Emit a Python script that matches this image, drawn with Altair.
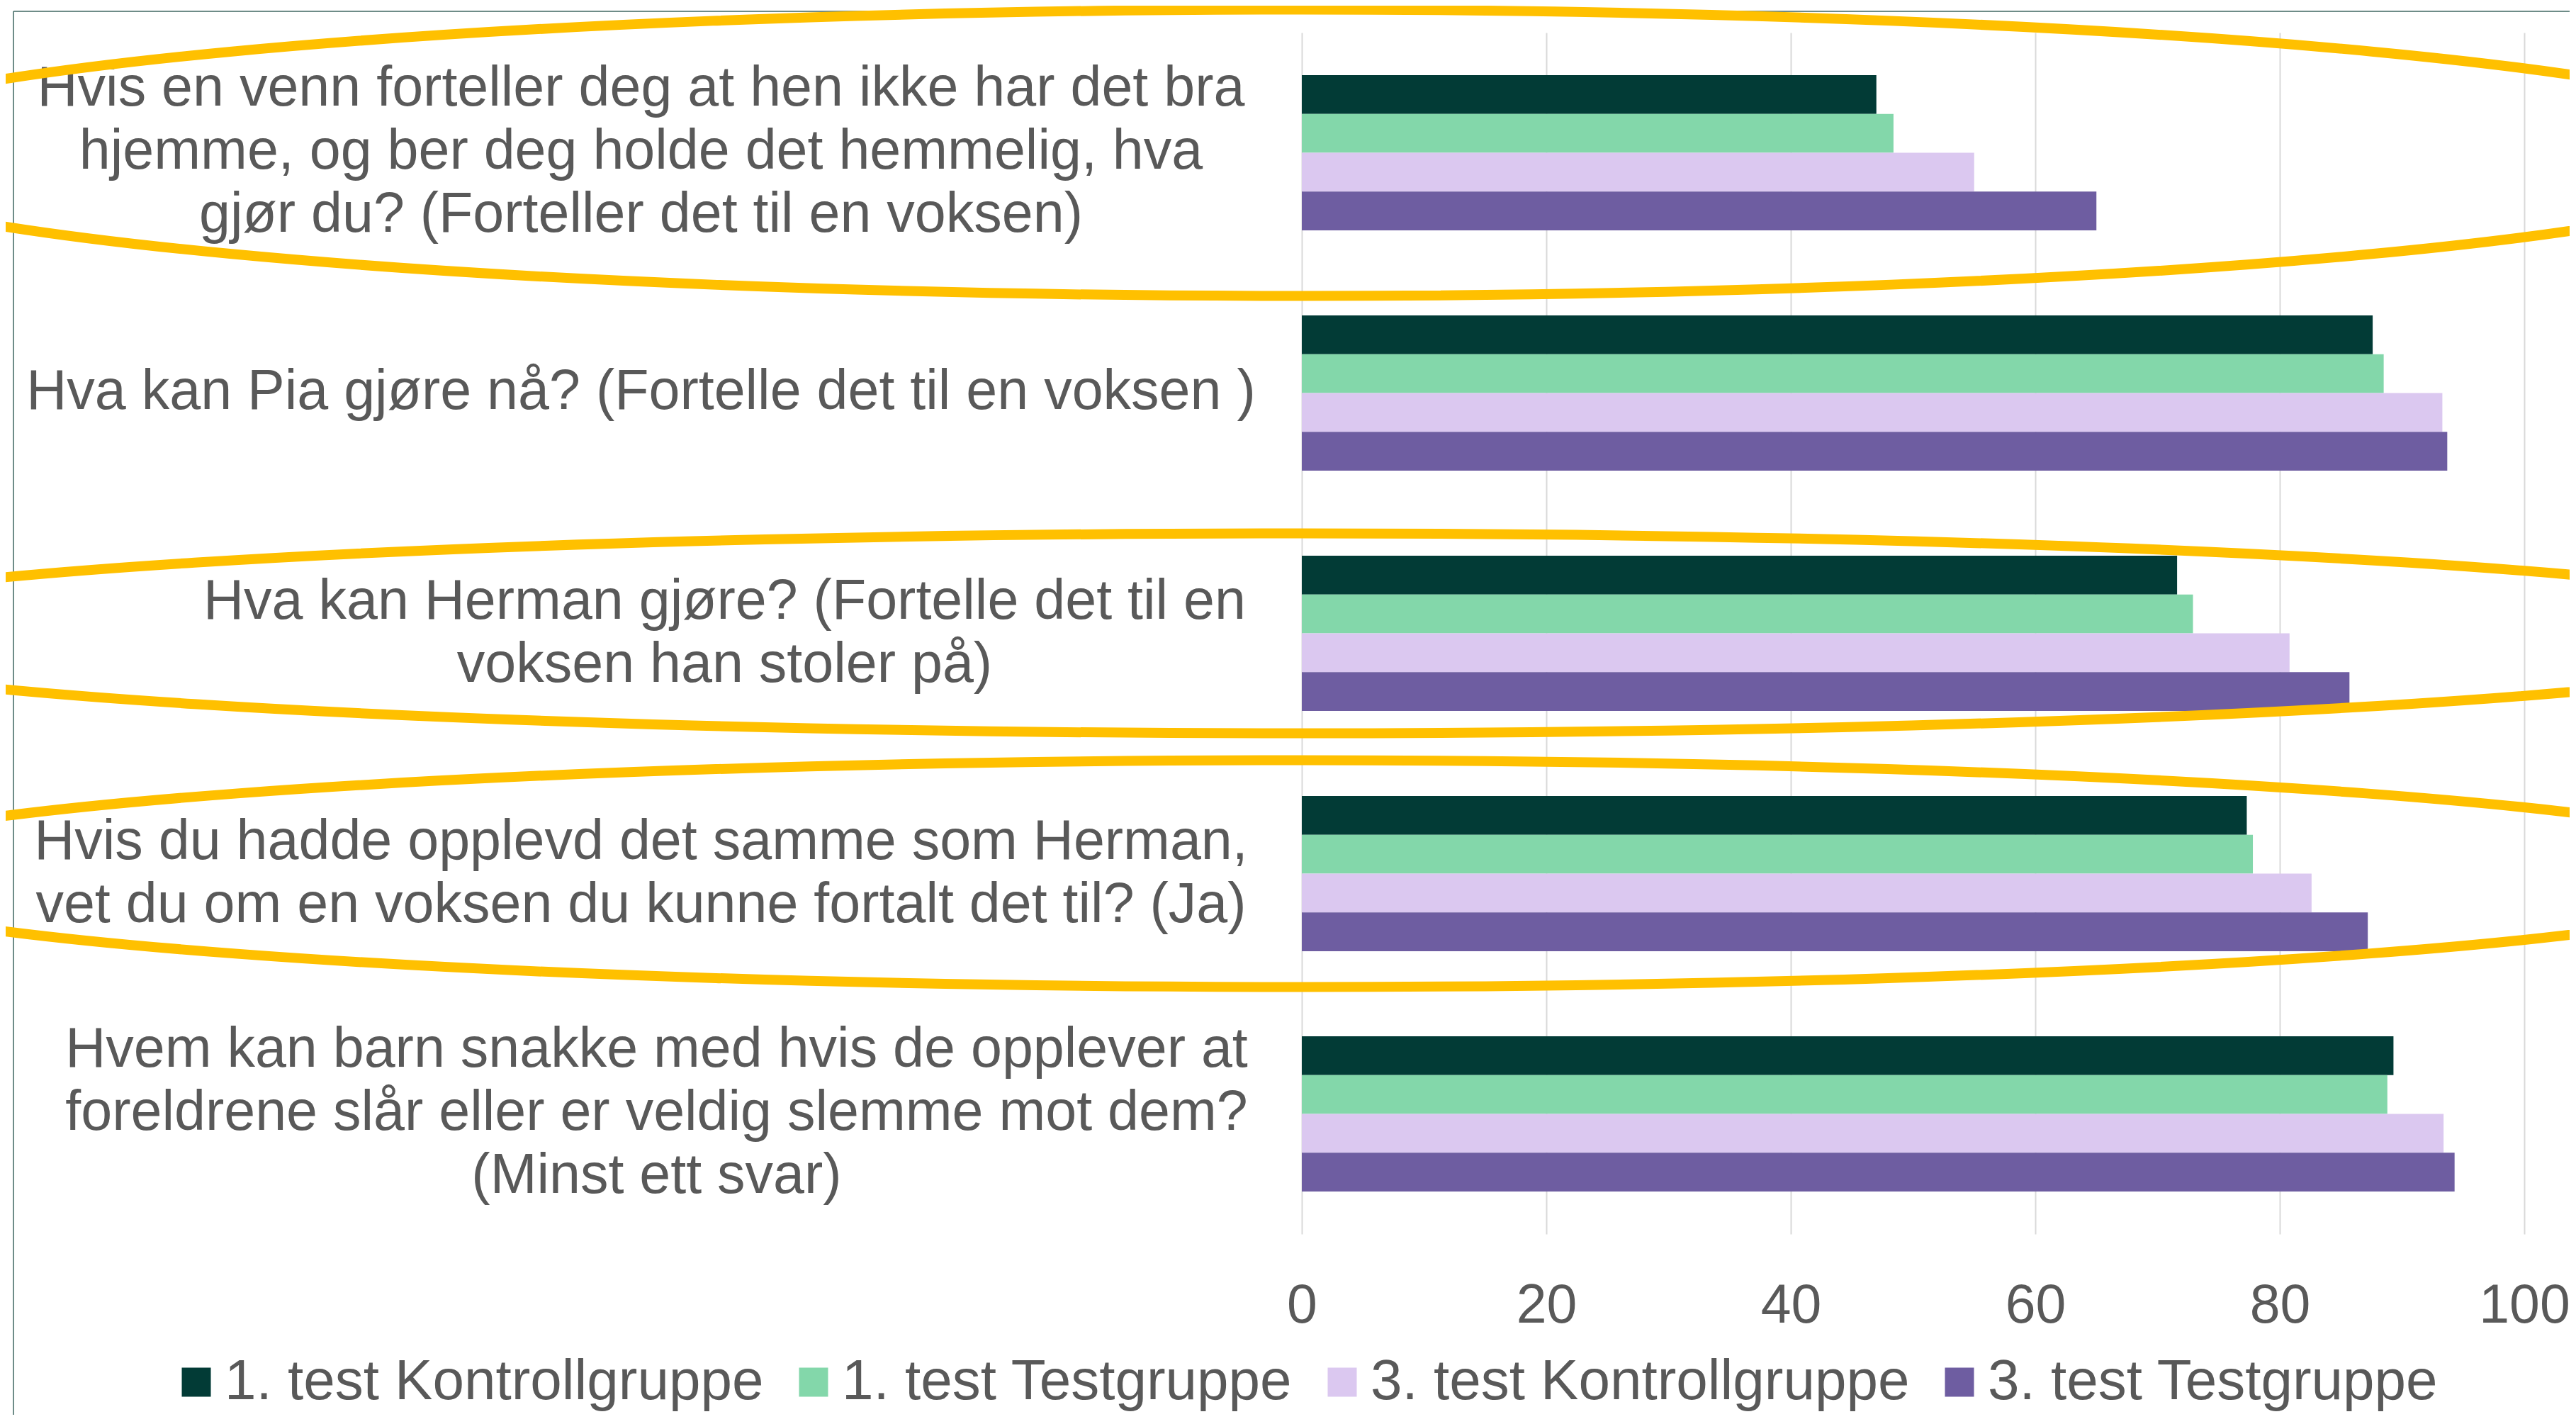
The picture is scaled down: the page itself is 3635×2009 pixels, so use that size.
import json
import altair as alt
import pandas as pd

# ---- data -------------------------------------------------------------
category_lines = [
    ["Hvis en venn forteller deg at hen ikke har det bra",
     "hjemme, og ber deg holde det hemmelig, hva",
     "gjør du? (Forteller det til en voksen)"],
    ["Hva kan Pia gjøre nå? (Fortelle det til en voksen )"],
    ["Hva kan Herman gjøre?  (Fortelle det til en",
     "voksen han stoler på)"],
    ["Hvis du hadde opplevd det samme som Herman,",
     "vet du om en voksen du kunne fortalt det til? (Ja)"],
    ["Hvem kan barn snakke med hvis de opplever at",
     "foreldrene slår eller er veldig slemme mot dem?",
     "(Minst ett svar)"],
]
categories = ["\n".join(lines) for lines in category_lines]

series = ["1. test Kontrollgruppe", "1. test Testgruppe",
          "3. test Kontrollgruppe", "3. test Testgruppe"]
colors = ["#023B36", "#83D7AA", "#DBC8F0", "#6E5DA1"]

k1_values = [47.0, 87.6, 71.6, 77.3, 89.3]
t1_values = [48.4, 88.5, 72.9, 77.8, 88.8]
k3_values = [55.0, 93.3, 80.8, 82.6, 93.4]
t3_values = [65.0, 93.7, 85.7, 87.2, 94.3]

x_ticks = [0, 20, 40, 60, 80, 100]

highlighted = [0, 2, 3]                    # categories circled in yellow
ellipse_axes = [(2135, 202), (2210, 141), (2124, 160)]  # half-axes, px

# ---- table -------------------------------------------------------------
rows = []
for s, vals in zip(series, [k1_values, t1_values, k3_values, t3_values]):
    for c, v in zip(categories, vals):
        rows.append({"category": c, "series": s, "value": v})
df = pd.DataFrame(rows)

TEXT = "#595959"
FONT = "Liberation Sans"

n_lines = "length(split(datum.value, '\\n'))"
# vertical centring of the multi-line label blocks on their band
label_baseline = {
    "condition": [
        {"test": f"{n_lines} >= 3", "value": "line-bottom"},
        {"test": f"{n_lines} == 1", "value": "line-top"},
    ],
    "value": "middle",
}


def is_cat(i):
    return f"datum.value == {json.dumps(categories[i], ensure_ascii=False)}"


# each label block is centred under its own widest line
label_padding = {
    "condition": [
        {"test": is_cat(2), "value": 815},
        {"test": is_cat(4), "value": 911},
    ],
    "value": 933,
}

bars = alt.Chart(df).mark_bar().encode(
    x=alt.X("value:Q",
            scale=alt.Scale(domain=[0, 100], nice=False),
            axis=alt.Axis(values=x_ticks, grid=True, gridColor="#D9D9D9",
                          gridWidth=2, domain=False, ticks=False,
                          labelFontSize=77, labelColor=TEXT,
                          labelBaseline="middle", labelPadding=101,
                          labelFlush=False, labelOverlap=False, title=None)),
    y=alt.Y("category:N", sort=categories,
            scale=alt.Scale(paddingInner=0.354, paddingOuter=0.177),
            axis=alt.Axis(title=None, domain=False, ticks=False,
                          labelExpr="split(datum.label, '\\n')",
                          labelAlign="center", labelBaseline=label_baseline,
                          labelPadding=label_padding, labelLimit=0,
                          labelOffset=-44.5,
                          labelFontSize=79, labelLineHeight=89,
                          labelColor=TEXT, labelOverlap=False)),
    yOffset=alt.YOffset("series:N", sort=series,
                        scale=alt.Scale(paddingInner=0, paddingOuter=0)),
    color=alt.Color("series:N", sort=series,
                    scale=alt.Scale(domain=series, range=colors),
                    legend=alt.Legend(title=None, orient="none",
                                      legendX=-1600, legendY=1864,
                                      direction="horizontal",
                                      symbolType="square", symbolSize=1681,
                                      symbolStrokeWidth=0,
                                      labelFontSize=80, labelColor=TEXT,
                                      labelLimit=0, labelOffset=0,
                                      columnPadding=30, padding=0)),
)


def ellipse_path(r):
    k = 0.5523
    return (f"M -1 0 C -1 {-k*r:.5f} {-k:.5f} {-r:.5f} 0 {-r:.5f} "
            f"C {k:.5f} {-r:.5f} 1 {-k*r:.5f} 1 0 "
            f"C 1 {k*r:.5f} {k:.5f} {r:.5f} 0 {r:.5f} "
            f"C {-k:.5f} {r:.5f} -1 {k*r:.5f} -1 0 Z")


ellipses = []
for idx, (a, b) in zip(highlighted, ellipse_axes):
    edf = pd.DataFrame({"category": [categories[idx]], "x": [0]})
    ellipses.append(
        alt.Chart(edf).mark_point(
            shape=ellipse_path(b / a), size=(2 * a) ** 2, filled=False,
            stroke="#FFC000", color="#FFC000", strokeWidth=14, opacity=1,
        ).encode(
            x=alt.X("x:Q", title=None),
            y=alt.Y("category:N", sort=categories, title=None),
        )
    )

frame_df = pd.DataFrame({"k": [0]})
frame_left = alt.Chart(frame_df).mark_rule(color="#3E6660", strokeWidth=1.5).encode(
    x=alt.value(-1818), y=alt.value(-30), y2=alt.value(1960))
frame_top = alt.Chart(frame_df).mark_rule(color="#3E6660", strokeWidth=1.5).encode(
    x=alt.value(-1818), x2=alt.value(1800), y=alt.value(-30))

chart = alt.layer(frame_left, frame_top, bars, *ellipses).properties(
    width=1725, height=1695,
    padding={"left": 1829, "top": 38, "right": 64, "bottom": 255},
    autosize=alt.AutoSizeParams(type="none"),
).configure(font=FONT).configure_view(stroke=None)

chart.save("out.html", embed_options={"renderer": "svg", "actions": False})
